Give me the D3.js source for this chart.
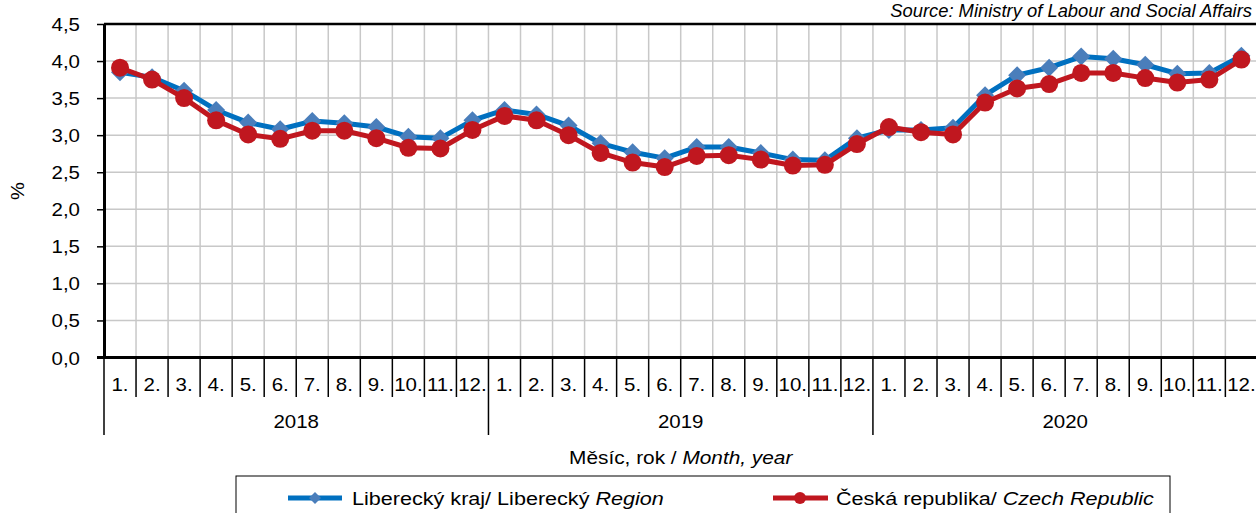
<!DOCTYPE html>
<html><head><meta charset="utf-8">
<script src="https://cdn.jsdelivr.net/npm/d3@7"></script>
<style>
html,body{margin:0;padding:0;background:#fff;overflow:hidden}
svg{display:block;font-family:"Liberation Sans",Arial,sans-serif}
</style></head>
<body>
<svg id="c" width="1256" height="513"></svg>
<script>
// ---- data ----
const years = ["2018","2019","2020"];
const months = ["1.","2.","3.","4.","5.","6.","7.","8.","9.","10.","11.","12."];
const liberecky = [3.85,3.78,3.60,3.34,3.17,3.08,3.19,3.16,3.11,2.98,2.96,3.20,
                   3.34,3.28,3.13,2.89,2.77,2.69,2.84,2.84,2.76,2.67,2.66,2.96,
                   3.07,3.07,3.10,3.54,3.81,3.91,4.06,4.03,3.95,3.83,3.84,4.07];
const ceskaRep  = [3.91,3.75,3.50,3.20,3.01,2.95,3.06,3.06,2.96,2.83,2.82,3.07,
                   3.26,3.20,3.00,2.76,2.63,2.57,2.72,2.73,2.67,2.59,2.60,2.88,
                   3.11,3.04,3.01,3.44,3.63,3.69,3.84,3.84,3.77,3.71,3.75,4.02];
const yTicks = [0,0.5,1,1.5,2,2.5,3,3.5,4,4.5];
const seriesNames = [["Liberecký kraj/ Liberecký ","Region"],["Česká republika/ ","Czech Republic"]];
const axisTitle = ["Měsíc, rok / ","Month, year"];
const sourceText = "Source: Ministry of Labour and Social Affairs";
const yLabel = "%";

// ---- layout ----
const X0=104, X1=1257.4, Y0=24, Y1=357.5;
const FS=17.5, SX=1.17; // font size and horizontal text stretch
const svg = d3.select("#c");
const keys = [];
years.forEach(y=>months.forEach(m=>keys.push(y+"-"+m)));
const x = d3.scaleBand().domain(keys).range([X0,X1]).paddingInner(0).paddingOuter(0);
const y = d3.scaleLinear().domain([0,4.5]).range([Y1,Y0]);
const bw = x.bandwidth();

function stext(g,tx,ty,sx,str,size,anchor,italic){
  const t = g.append("text").attr("transform",`translate(${tx},${ty}) scale(${sx},1)`)
    .attr("font-size",size).attr("text-anchor",anchor||"middle").attr("fill","#000");
  if(italic) t.attr("font-style","italic");
  if(str!==null) t.text(str);
  return t;
}

// grid
const grid = svg.append("g");
grid.selectAll("line.h").data(yTicks.filter(d=>d>0&&d<4.5)).join("line")
  .attr("x1",X0).attr("x2",X1).attr("y1",d=>y(d)).attr("y2",d=>y(d))
  .attr("stroke","#c8c8c8").attr("stroke-width",1.5);
grid.selectAll("line.v").data(keys.slice(1)).join("line")
  .attr("x1",d=>x(d)).attr("x2",d=>x(d)).attr("y1",Y0).attr("y2",Y1)
  .attr("stroke","#c8c8c8").attr("stroke-width",1.5);

// frame top/right
svg.append("line").attr("x1",X0).attr("x2",X1).attr("y1",Y0).attr("y2",Y0).attr("stroke","#000").attr("stroke-width",2.5);
svg.append("line").attr("x1",X1).attr("x2",X1).attr("y1",Y0).attr("y2",Y1).attr("stroke","#000").attr("stroke-width",2.5);

// y axis
const ya = svg.append("g").attr("transform",`translate(${X0},0)`)
  .call(d3.axisLeft(y).tickValues(yTicks).tickSize(7).tickSizeOuter(0)
    .tickFormat(d=>d.toFixed(1).replace(".",",")));
ya.select(".domain").attr("stroke","#000").attr("stroke-width",3);
ya.selectAll(".tick line").attr("stroke","#000").attr("stroke-width",1.5);
ya.selectAll(".tick text").attr("font-size",FS).attr("font-family","Liberation Sans, Arial, sans-serif")
  .attr("fill","#000").attr("x",null).attr("dy",null)
  .attr("transform",`translate(-24,6.5) scale(${SX},1)`).attr("text-anchor","end");

// x axis base line
svg.append("line").attr("x1",X0-7).attr("x2",X1).attr("y1",Y1).attr("y2",Y1).attr("stroke","#000").attr("stroke-width",3);

// month separators
const xa = svg.append("g");
const bounds = keys.map(k=>x(k)).concat([X1]);
xa.selectAll("line.m").data(bounds).join("line")
  .attr("x1",d=>d).attr("x2",d=>d).attr("y1",Y1).attr("y2",(d,i)=> i%12===0 ? 435 : 397)
  .attr("stroke","#000").attr("stroke-width",1.5);
keys.forEach((k,i)=>{
  stext(xa, x(k)+bw/2, 391, SX, months[i%12], FS, "middle");
});
years.forEach((yr,i)=>{
  const a = x(yr+"-1."), b = x(yr+"-12.")+bw;
  stext(xa,(a+b)/2,428,SX,yr,FS,"middle");
});

// axis title
const at = stext(svg,(X0+X1)/2,464,SX,null,FS+0.3,"middle");
at.append("tspan").text(axisTitle[0]);
at.append("tspan").attr("font-style","italic").text(axisTitle[1]);

// y label
svg.append("text").attr("transform","translate(24,191) rotate(-90) scale(1.15,1)")
  .attr("text-anchor","middle").attr("font-size",FS).text(yLabel);

// source
stext(svg,1252,17,1.05,sourceText,17.5,"end",true);

// series
const blue="#0070C0", blueM="#4A7EBB", red="#C0171F";
const line = d3.line().x((d,i)=>x(keys[i])+bw/2).y(d=>y(d));
svg.append("path").datum(liberecky).attr("d",line).attr("fill","none")
  .attr("stroke",blue).attr("stroke-width",5).attr("stroke-linejoin","round");
svg.append("g").selectAll("path").data(liberecky).join("path")
  .attr("d","M0,-9L9,0L0,9L-9,0Z").attr("fill",blueM)
  .attr("transform",(d,i)=>`translate(${x(keys[i])+bw/2},${y(d)})`);
svg.append("path").datum(ceskaRep).attr("d",line).attr("fill","none")
  .attr("stroke",red).attr("stroke-width",5).attr("stroke-linejoin","round");
svg.append("g").selectAll("circle").data(ceskaRep).join("circle")
  .attr("cx",(d,i)=>x(keys[i])+bw/2).attr("cy",d=>y(d)).attr("r",9).attr("fill",red);

// legend
const lg = svg.append("g");
lg.append("rect").attr("x",236).attr("y",476).attr("width",934).attr("height",60)
  .attr("fill","#fff").attr("stroke","#000").attr("stroke-width",1);
lg.append("line").attr("x1",288).attr("x2",342).attr("y1",498).attr("y2",498).attr("stroke",blue).attr("stroke-width",5);
lg.append("path").attr("d","M0,-6L6,0L0,6L-6,0Z").attr("fill",blueM).attr("transform","translate(315,498)");
const t1 = stext(lg,352,505,1.18,null,18.3,"start");
t1.append("tspan").text(seriesNames[0][0]);
t1.append("tspan").attr("font-style","italic").text(seriesNames[0][1]);
lg.append("line").attr("x1",773).attr("x2",828).attr("y1",498).attr("y2",498).attr("stroke",red).attr("stroke-width",5);
lg.append("circle").attr("cx",800).attr("cy",498).attr("r",6).attr("fill",red);
const t2 = stext(lg,836,505,1.18,null,18.3,"start");
t2.append("tspan").text(seriesNames[1][0]);
t2.append("tspan").attr("font-style","italic").text(seriesNames[1][1]);
</script>
</body></html>
